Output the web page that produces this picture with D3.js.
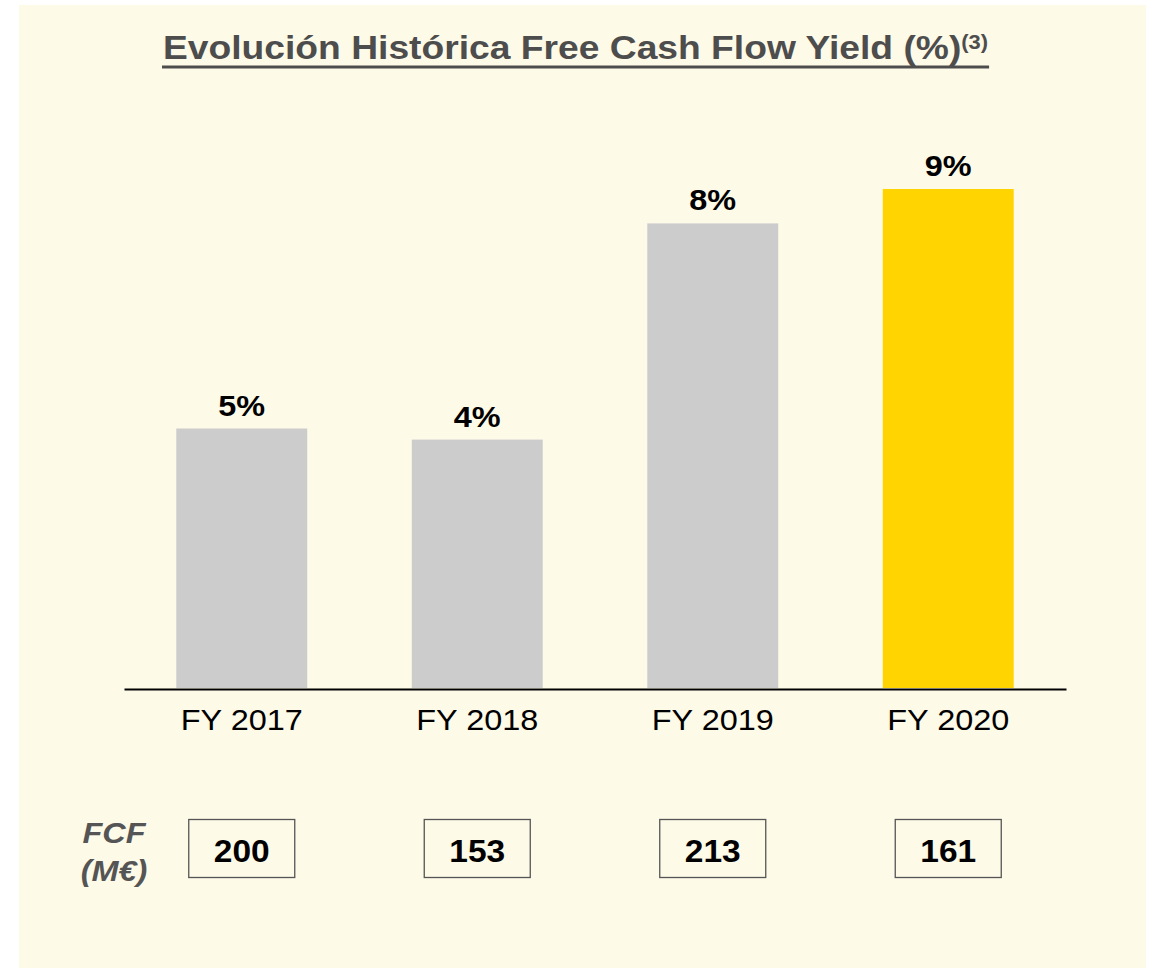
<!DOCTYPE html>
<html>
<head>
<meta charset="utf-8">
<script src="https://cdn.jsdelivr.net/npm/d3@7"></script>
<style>
  body { margin: 0; background: #ffffff; }
  svg text { font-family: "Liberation Sans", Arial, sans-serif; }
</style>
</head>
<body>
<div id="vis"></div>
<script>
const FRAME_WIDTH = 1153;
const FRAME_HEIGHT = 968;

// chart data
const YEARS = ["FY 2017", "FY 2018", "FY 2019", "FY 2020"];
const FCF_YIELD = [4.68, 4.48, 8.38, 9.0];
const FCF = [200, 153, 213, 161];
const BAR_COLORS = ["#cccccc", "#cccccc", "#cccccc", "#ffd400"];

// text in the source is a little wider than the font at the same height
const STRETCH = 1.08;

const SVG = d3.select("#vis")
              .append("svg")
              .attr("width", FRAME_WIDTH)
              .attr("height", FRAME_HEIGHT);

// cream panel
SVG.append("rect")
   .attr("x", 19).attr("y", 5)
   .attr("width", 1127).attr("height", 963)
   .attr("fill", "#fefae8");

// title, underlined
const title = SVG.append("text")
   .attr("transform", "translate(163,59) scale(1.095,1)")
   .attr("fill", "#4d4d4d")
   .attr("font-size", 34)
   .attr("font-weight", "bold");
title.append("tspan").text("Evolución Histórica Free Cash Flow Yield (%)");
title.append("tspan")
     .attr("font-size", 20)
     .attr("dy", -10)
     .text("(3)");
const tb = title.node().getBBox();
SVG.append("rect")
   .attr("x", 162).attr("y", 65.5)
   .attr("width", tb.width * 1.095 + 2).attr("height", 3)
   .attr("fill", "#4d4d4d");

const X_Scale = d3.scaleBand()
                  .domain(YEARS)
                  .range([124, 1066])
                  .paddingInner(0.444)
                  .paddingOuter(0.222);
const Y_Scale = d3.scaleLinear()
                  .domain([0, 9])
                  .range([688, 189]);

const data = YEARS.map((y, i) => ({year: y, value: FCF_YIELD[i], fcf: FCF[i], color: BAR_COLORS[i]}));
const cx = d => X_Scale(d.year) + X_Scale.bandwidth() / 2;

// bars
SVG.selectAll(".bar")
   .data(data)
   .enter().append("rect")
   .attr("class", "bar")
   .attr("x", d => X_Scale(d.year))
   .attr("y", d => Y_Scale(d.value))
   .attr("width", X_Scale.bandwidth())
   .attr("height", d => Y_Scale(0) - Y_Scale(d.value))
   .attr("fill", d => d.color);

// value labels
SVG.selectAll(".val")
   .data(data)
   .enter().append("text")
   .attr("class", "val")
   .attr("transform", d => "translate(" + cx(d) + "," + (Y_Scale(d.value) - 13) + ") scale(" + STRETCH + ",1)")
   .attr("text-anchor", "middle")
   .attr("font-size", 30)
   .attr("font-weight", "bold")
   .attr("fill", "#000")
   .text(d => Math.round(d.value) + "%");

// x axis
const xAxis = SVG.append("g")
   .attr("transform", "translate(0," + 689 + ")")
   .call(d3.axisBottom(X_Scale).tickSize(0).tickPadding(20));
xAxis.select(".domain").attr("stroke", "#000").attr("stroke-width", 2);
xAxis.selectAll("text")
     .attr("font-size", 30)
     .attr("transform", "scale(" + STRETCH + ",1)")
     .attr("fill", "#000")
     .style("font-family", "'Liberation Sans', Arial, sans-serif");

// FCF row
const fcfLabel = SVG.append("text")
   .attr("transform", "translate(114,0) scale(" + STRETCH + ",1)")
   .attr("text-anchor", "middle")
   .attr("fill", "#555555")
   .attr("font-size", 30)
   .attr("font-weight", "bold")
   .attr("font-style", "italic");
fcfLabel.append("tspan").attr("x", 0).attr("y", 843).text("FCF");
fcfLabel.append("tspan").attr("x", 0).attr("y", 881).text("(M€)");

const boxes = SVG.selectAll(".fcf")
   .data(data)
   .enter().append("g")
   .attr("class", "fcf")
   .attr("transform", d => "translate(" + cx(d) + ",0)");
boxes.append("rect")
   .attr("x", -53).attr("y", 819.5)
   .attr("width", 106).attr("height", 58)
   .attr("fill", "none")
   .attr("stroke", "#555555")
   .attr("stroke-width", 1.3);
boxes.append("text")
   .attr("transform", "translate(0,862) scale(" + STRETCH + ",1)")
   .attr("text-anchor", "middle")
   .attr("font-size", 31)
   .attr("font-weight", "bold")
   .attr("fill", "#000")
   .text(d => d.fcf);
</script>
</body>
</html>
